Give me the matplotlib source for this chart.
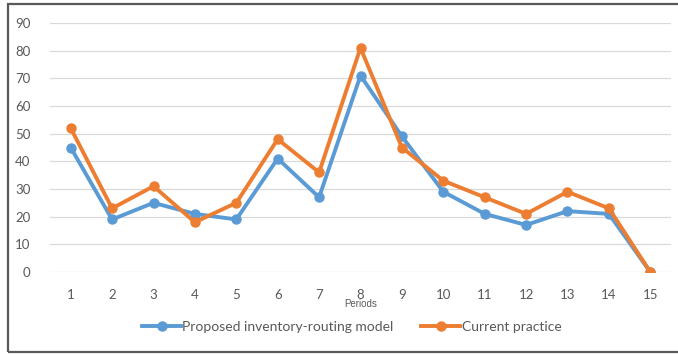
import matplotlib.pyplot as plt
from matplotlib.patches import Rectangle

periods = list(range(1, 16))
proposed = [45, 19, 25, 21, 19, 41, 27, 71, 49, 29, 21, 17, 22, 21, 0]
current = [52, 23, 31, 18, 25, 48, 36, 81, 45, 33, 27, 21, 29, 23, 0]
y_ticks = list(range(0, 91, 10))

W, H = 678, 354
fig = plt.figure(figsize=(W / 100, H / 100), dpi=100)
# axes rect in pixel terms: left 50, right 671, top 23, bottom 272
ax = fig.add_axes([50 / W, 1 - 272 / H, (671 - 50) / W, (272 - 23) / H])

blue, orange = '#5B9BD5', '#ED7D31'
ax.plot(periods, proposed, color=blue, lw=2.8, marker='o', ms=6.5,
        label='Proposed inventory-routing model', zorder=3)
ax.plot(periods, current, color=orange, lw=2.8, marker='o', ms=6.5,
        label='Current practice', zorder=4)

ax.set_xlim(0.5, 15.5)
ax.set_ylim(0, 90)
ax.set_yticks(y_ticks)
ax.set_xticks(periods)
ax.grid(axis='y', color='#D9D9D9', lw=0.9)
ax.set_axisbelow(True)
for s in ax.spines.values():
    s.set_visible(False)
ax.tick_params(length=0, labelsize=9.5, labelcolor='#595959', pad=12)
ax.tick_params(axis='y', pad=14)
for lab in ax.get_xticklabels() + ax.get_yticklabels():
    lab.set_family('Lato')
ax.set_xlabel('Periods', fontsize=7, color='#595959', family='Liberation Sans', labelpad=-1)

leg = ax.legend(loc='center', bbox_to_anchor=(0.486, -0.22), ncol=2, frameon=False,
                prop={'family': 'Lato', 'size': 10}, handlelength=2.8,
                columnspacing=2.0, handletextpad=0.1)
for t in leg.get_texts():
    t.set_color('#595959')

fig.patches.append(Rectangle((8 / W, 1 - 352 / H), (W + 5 - 8) / W, (352 - 4) / H,
                             transform=fig.transFigure, fill=False,
                             edgecolor='#595959', lw=1.6, clip_on=False))

fig.savefig('out.png', dpi=100)
